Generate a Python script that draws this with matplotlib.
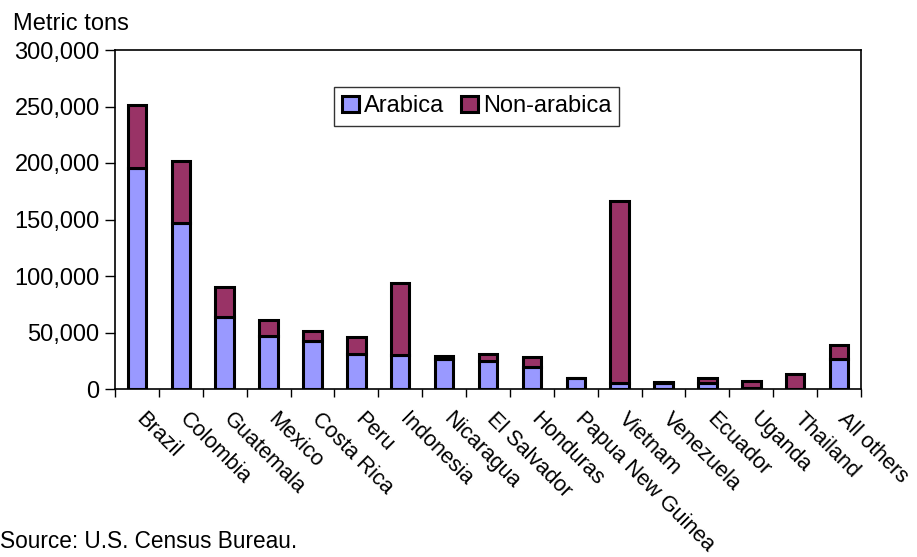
import matplotlib.pyplot as plt
import numpy as np
from matplotlib.ticker import FuncFormatter

plt.rcParams['font.family'] = ['Liberation Sans', 'DejaVu Sans']

countries = ['Brazil', 'Colombia', 'Guatemala', 'Mexico', 'Costa Rica', 'Peru',
             'Indonesia', 'Nicaragua', 'El Salvador', 'Honduras', 'Papua New Guinea',
             'Vietnam', 'Venezuela', 'Ecuador', 'Uganda', 'Thailand', 'All others']
arabica = [195600, 146800, 63900, 46800, 42600, 31400, 30500, 26400, 25200, 19500,
           9500, 5700, 5500, 5000, 1200, 300, 26400]
non_arabica = [55900, 54700, 26100, 14200, 8900, 14200, 63600, 2900, 6200, 8600,
               0, 160600, 700, 4800, 5900, 13000, 12400]

fig = plt.figure(figsize=(9.17, 5.57), dpi=100)
ax = fig.add_axes([115 / 917, 1 - 389 / 557, 746 / 917, 339 / 557])

x = np.arange(len(countries))
ax.bar(x, arabica, width=0.42, color='#9999FF', edgecolor='black', linewidth=2.2,
       label='Arabica')
ax.bar(x, non_arabica, width=0.42, bottom=arabica, color='#993366',
       edgecolor='black', linewidth=2.2, label='Non-arabica')

ax.set_xlim(-0.5, len(countries) - 0.5)
ax.set_ylim(0, 300000)
ax.set_yticks(np.arange(0, 300001, 50000))
ax.yaxis.set_major_formatter(FuncFormatter(lambda v, p: f'{int(v):,}'))
ax.tick_params(axis='y', direction='out', length=7, width=1, labelsize=17, pad=4)

# ticks between categories, labels under the bars
ax.set_xticks(np.arange(-0.5, len(countries), 1))
ax.set_xticklabels([])
ax.tick_params(axis='x', direction='out', length=6, width=1)
for i, name in enumerate(countries):
    ax.text(i + 0.22, -17000, name, rotation=-45, rotation_mode='anchor',
            ha='left', va='top', fontsize=15.6)

for s in ax.spines.values():
    s.set_linewidth(1.2)

leg = ax.legend(loc='upper left', bbox_to_anchor=(219 / 746, 302 / 339), ncol=2,
                fontsize=17, frameon=True, fancybox=False, edgecolor='black',
                handlelength=0.7, handleheight=0.7, handletextpad=0.2,
                columnspacing=0.75, borderpad=0.35, borderaxespad=0)
leg.get_frame().set_linewidth(1.0)
for h in leg.legend_handles:
    h.set_linewidth(2.2)

fig.text(13 / 917, 1 - 30 / 557, 'Metric tons', fontsize=17, ha='left', va='baseline')
fig.text(0, 1 - 548 / 557, 'Source: U.S. Census Bureau.', fontsize=16.3,
         ha='left', va='baseline')

fig.savefig('out.png', dpi=100)
